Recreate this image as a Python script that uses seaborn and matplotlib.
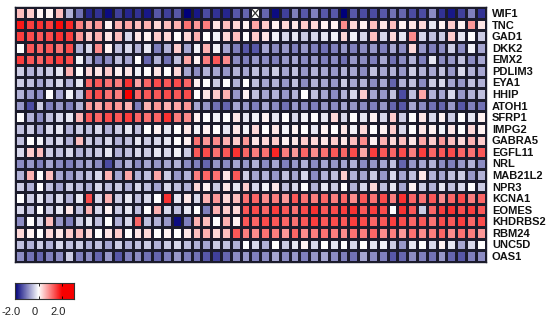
import numpy as np
import pandas as pd
import matplotlib
matplotlib.use("Agg")
import matplotlib.pyplot as plt
import matplotlib.transforms as mtransforms
import seaborn as sns
from matplotlib.colors import LinearSegmentedColormap

genes = ["WIF1", "TNC", "GAD1", "DKK2", "EMX2", "PDLIM3", "EYA1", "HHIP", "ATOH1",
         "SFRP1", "IMPG2", "GABRA5", "EGFL11", "NRL", "MAB21L2", "NPR3", "KCNA1",
         "EOMES", "KHDRBS2", "RBM24", "UNC5D", "OAS1"]

WIF1 = [0.5, 0.4, 0.1, 0.1, 0.5, -0.6, -1.1, -1.7, -1.6, -1.9, -1.5, -1.7, -1.6, -1.8, -1.3,
        -1.5, -1.3, -2.0, -1.8, -1.4, -1.6, -1.7, -1.3, -1.2, np.nan, -1.2, -1.9, -1.5, -1.0, -1.3, -1.0, -1.3,
        -1.3, -2.0, -1.3, -1.4, -1.4, -1.3, -1.1, -1.2, -1.4, -1.4, -0.9, -1.6, -1.8, -1.5, -1.0, -1.6]
TNC = [1.8, 1.5, 1.6, 1.5, 1.9, 1.7, 1.0, 0.7, 0.8, 0.1, 0.6, 0.7, 0.5, 0.6, 0.3,
       0.5, 0.6, 1.1, 0.8, 1.0, 0.2, 0.5, 0.3, 0.1, 0.7, 0.4, 0.1, 0.3, 0.2, 0.4, 0.3, 0.1,
       0.1, 0.9, 0.3, 0.1, 0.5, 0.2, 0.5, 0.1, 0.2, 0.3, -0.2, 0.1, 0.4, 0.1, 0.8, 0.2]
GAD1 = [1.5, 1.4, 1.3, 1.4, 1.6, 1.5, 0.8, 0.4, 0.6, 0.2, 0.5, -0.3, 0.2, 0.1, 0.4,
        0.3, 0.0, 0.3, 0.6, 0.0, -0.1, 0.3, 0.5, 0.0, 0.4, 0.2, -0.1, -0.3, -0.2, -0.4, -0.3, -0.2,
        -0.1, 0.3, -0.1, -0.3, 0.5, -0.3, 0.3, -0.2, 0.9, -0.3, -0.5, -0.4, 0.4, -0.2, 0.0, -0.4]
DKK2 = [0.0, 1.3, 1.2, 1.3, 1.1, 1.4, -0.6, -0.3, 0.9, 0.1, -0.5, -0.3, -0.6, -0.2, -1.0,
        -0.6, 0.4, -0.7, -0.1, 0.6, -0.1, -0.7, -1.0, -1.3, -1.3, -0.7, -0.9, -0.8, -1.0, -0.8, -1.0, -1.1,
        -1.0, -0.8, -1.0, -0.9, -0.8, -1.0, -0.7, -0.9, 0.3, -0.8, -1.0, -0.9, -0.4, -0.9, -0.1, -0.7]
EMX2 = [1.5, 1.3, 1.2, 1.4, 1.5, 1.4, -0.1, -0.6, -1.0, -0.9, -0.5, -0.7, 0.0, -1.2, -0.6,
        -1.1, -0.5, 0.7, 0.1, 1.0, 1.3, 0.9, -0.9, -1.0, -0.8, -0.9, -1.0, -0.8, -0.7, -0.9, -0.8, -1.0,
        -0.9, -1.1, -0.8, -0.9, -1.0, -0.7, -1.1, -0.9, -0.6, -1.0, -0.2, -0.9, -0.8, -0.5, -0.9, -0.7]
PDLIM3 = [-0.4, -0.6, -0.5, -0.4, -0.2, 0.6, 0.0, 0.3, 0.2, 0.4, 0.1, 0.2, -0.1, 0.0, 0.2,
          0.0, 0.3, -0.7, -0.9, -0.6, -0.7, -0.8, -0.6, -0.7, -0.5, -0.6, -0.4, -0.7, -0.5, -0.8, -0.6, -0.7,
          -0.8, -0.6, -0.7, -0.9, -0.5, -0.7, -0.6, -0.8, -0.4, -0.6, -0.7, -0.5, -0.8, -0.3, -0.6, -0.7]
EYA1 = [-0.4, -0.5, -0.7, -0.5, -0.3, -0.6, -0.2, 1.2, 1.3, 1.1, 1.0, 1.6, 0.7, 1.2, 1.4,
        1.3, 1.4, 1.2, 0.1, 0.0, -0.4, 0.0, -0.6, 0.0, -0.5, -0.7, -0.6, -0.8, -0.5, -0.9, -0.6, -0.7,
        -0.8, -0.4, -0.7, -0.6, -0.9, -0.7, -1.2, -0.6, -0.5, -0.9, -0.4, -0.3, -0.7, -0.8, -0.5, -0.6]
HHIP = [-0.6, -0.8, -0.9, 0.0, -0.7, -0.1, -0.5, 1.3, 1.4, 1.1, 1.0, 2.0, 1.2, 1.3, 1.3,
        1.4, 1.3, 1.4, 0.0, 0.2, 0.4, 0.6, -0.8, 0.1, -0.5, -0.7, -0.6, -0.8, -0.6, 0.0, -0.5, -0.7,
        -0.9, -0.6, -0.3, 0.4, -0.7, -0.8, -0.5, -1.4, -0.5, 0.7, -0.6, -0.7, -0.3, -0.8, -0.6, -0.5]
ATOH1 = [-0.8, -1.4, -0.4, -1.0, -0.8, -1.0, -0.6, 0.8, 0.7, 0.9, 0.8, 0.6, -1.0, 0.6, 0.8,
         0.6, 0.7, 0.8, -0.7, -0.8, -1.1, -1.2, -0.7, -0.8, -1.0, -0.7, -0.9, -1.1, -0.8, -0.9, -1.0, -0.8,
         -0.9, -0.7, -0.8, -0.9, -1.0, -0.8, -1.2, -1.3, -0.7, -0.9, -1.1, -1.2, -0.8, -1.3, -1.0, -1.1]
SFRP1 = [0.0, -0.6, -0.9, -0.5, -0.3, -0.2, 0.6, 1.3, 1.2, 1.4, 1.3, 1.5, 1.2, 1.1, 1.2,
         1.6, 1.0, 0.9, 0.1, 0.0, -0.1, 0.0, 0.2, -0.2, -0.1, 0.1, -0.2, 0.0, -0.3, -0.1, 0.0, -0.2,
         0.3, -0.3, 0.0, -0.2, 0.1, -0.3, 0.4, -0.4, 0.0, 0.2, -0.3, 0.1, -0.4, 0.0, -0.2, 0.1]
IMPG2 = [-0.5, -0.4, -0.7, -0.3, -0.2, -0.6, -0.4, -0.5, -0.3, -0.6, -0.4, -0.2, -0.5, 0.0, 0.1,
         -0.2, 0.0, 0.2, -0.1, 0.1, 0.0, -0.2, 0.2, -0.1, 0.3, 0.0, 0.2, -0.1, 0.1, 0.0, -0.2, 0.1,
         0.0, 0.2, -0.1, 0.3, 0.0, 0.1, 0.4, -0.3, 0.0, 0.2, 0.1, -0.1, 0.2, 0.0, 0.3, 0.1]
GABRA5 = [-0.5, 0.0, -0.1, -0.4, -0.3, -0.6, 0.5, -0.4, -0.5, -0.3, -0.6, -0.5, -0.2, -0.4, -0.3,
          -0.2, 0.0, 0.1, 1.1, 0.8, 0.9, 0.6, 0.4, 0.8, 0.2, 0.3, 0.4, 0.1, 0.2, 0.4, 0.3, 0.2,
          0.4, 0.2, 0.5, 0.9, 0.1, 0.6, 0.3, 0.5, 0.2, 0.7, 0.4, 0.8, 0.5, 0.3, 0.6, 0.4]
EGFL11 = [-0.3, 0.4, 0.5, -0.4, -0.5, -0.3, -0.6, -0.5, -0.4, -0.2, -0.6, -0.5, -0.3, -0.4, -0.2,
          -0.3, -0.1, -0.4, 1.3, 1.4, 1.1, 1.3, 1.6, 1.2, 1.0, 1.1, 1.7, 1.0, 0.8, 1.2, 0.9, 1.1,
          1.3, 1.2, 1.4, 0.7, 1.5, 1.3, 1.2, 1.4, 1.0, 1.5, 1.2, 1.3, 1.4, 1.2, 1.1, 1.3]
NRL = [-0.9, -0.8, -1.0, -0.7, -0.9, -1.0, -0.8, -0.7, -0.9, -1.4, -0.8, -0.6, -0.9, -0.7, -0.8,
       -0.7, -0.6, -0.9, -1.0, -1.2, -0.8, -0.9, -0.7, -0.8, -0.6, -0.9, -0.7, -1.0, -0.8, -0.6, -0.9, -0.7,
       -0.8, -0.7, -0.6, -0.9, -0.8, -0.7, -0.5, -1.2, -0.8, -0.7, -0.6, -0.9, -1.0, -0.8, -0.6, -0.9]
MAB21L2 = [-0.6, 0.6, 0.0, 0.5, -0.7, -0.8, -0.6, -0.5, -0.3, 0.6, -0.7, 0.7, -0.6, -0.5, 0.7,
           -0.4, -0.8, -0.6, 1.0, 1.2, 1.1, 0.2, 1.3, -0.4, -0.7, -0.6, -0.8, -0.5, -0.7, -0.3, -0.9, -0.6,
           -0.5, 0.4, -0.6, -0.7, -0.4, -0.8, -0.3, -0.7, -0.5, 0.2, -0.6, -0.7, -0.5, -0.4, -0.8, -0.6]
NPR3 = [-0.4, -0.6, 0.0, -0.5, -0.7, -0.4, -0.5, -0.6, -0.3, -0.5, -0.4, -0.6, -0.3, -0.5, -0.7,
        -0.3, -0.5, -0.6, 0.3, 0.1, -0.4, 0.2, -0.2, 0.4, -0.3, -0.1, 0.2, -0.5, -0.3, 0.0, -0.6, -0.2,
        -0.4, 0.0, -0.6, -0.3, 0.3, -0.5, -0.2, -0.7, 0.1, -0.4, -0.6, -0.2, -0.5, -0.3, 0.0, -0.4]
KCNA1 = [0.0, -0.4, -0.2, -0.5, -0.3, -0.6, -0.2, 1.4, -0.3, 0.6, -0.4, -0.2, -0.5, -0.3, 0.0,
         1.6, -0.2, 0.2, -0.3, 0.6, 0.8, 0.3, 0.5, 1.1, 1.2, 0.9, 1.0, 0.8, 1.3, 1.1, 1.0, 1.2,
         1.0, 1.2, 0.9, 1.3, 1.1, 1.4, 1.0, 1.6, 1.2, 1.1, 1.3, 0.9, 1.2, 1.4, 1.0, 1.2]
EOMES = [-0.3, -0.5, 0.0, -0.4, -0.2, 0.2, -0.5, 0.6, -0.3, 0.1, -0.4, -0.2, -0.5, 0.0, 0.6,
         -0.3, -0.5, -0.2, 0.0, -1.0, 0.6, 0.4, 0.3, 1.3, 1.4, 1.2, 1.5, 1.3, 1.1, 1.4, 1.6, 1.3,
         1.4, 1.5, 1.6, 1.3, 1.5, 1.4, 0.0, 1.6, 1.3, -0.4, 1.2, 1.5, 1.6, 1.4, 1.5, 1.3]
KHDRBS2 = [-0.9, 0.0, -0.3, 0.5, -0.8, -1.0, -0.4, -0.2, -0.5, 0.0, -0.6, -0.3, 1.2, -0.5, -0.6,
           -0.8, -1.9, -1.0, 0.6, 0.5, 0.0, 0.6, 0.1, 1.3, 1.2, 1.4, 1.3, 1.2, 1.1, 1.3, 1.5, 1.3,
           1.4, 1.3, 1.5, 1.4, 1.2, 1.3, 1.5, 1.4, 1.2, 1.3, 1.1, 1.4, 1.3, 1.5, 1.2, 1.4]
RBM24 = [0.3, 0.1, 0.0, 0.3, 0.2, 0.4, 0.5, 0.3, 0.0, 0.2, 0.4, 0.0, 0.2, 0.3, 0.0,
         0.1, 0.0, 0.2, 0.5, 0.6, 0.3, 0.5, 1.3, 1.0, 0.9, 1.1, 1.0, 0.8, 1.2, 0.9, 1.0, 1.1,
         1.0, 0.9, 1.1, 1.0, 1.2, 0.9, 1.0, 0.8, 1.1, 0.9, 1.0, 1.2, 0.9, 1.1, 1.0, 0.8]
UNC5D = [-0.5, -0.6, -0.4, -0.6, -0.3, -0.5, -0.4, -0.6, -0.5, -0.7, -0.4, -0.6, -0.5, -0.4, -0.6,
         -0.4, -0.3, -0.5, -0.6, -0.7, -0.4, -0.5, -0.6, 0.0, -0.3, -0.6, 0.0, -0.4, -0.2, 0.1, -0.3, 0.0,
         -0.2, 0.0, -0.3, 0.0, -0.2, -0.1, -0.4, -0.8, -0.2, 0.0, -0.3, 0.1, -0.2, -0.7, -0.3, 0.0]
OAS1 = [-0.9, -1.1, -1.2, -1.0, -0.9, -0.4, -1.0, -0.9, -1.2, -0.8, -1.3, -1.0, -0.9, -1.1, -1.2,
        -1.0, -0.8, -1.0, -1.1, -1.3, -1.5, -1.2, -0.9, -0.8, -1.0, -0.9, -0.7, -0.9, -0.8, -1.0, -0.8, -0.7,
        -0.9, -1.0, -1.1, -0.7, -0.9, -1.0, -1.3, -1.2, -0.9, -1.0, -1.1, -0.8, -1.2, -1.3, -1.0, -0.9]

rows = [WIF1, TNC, GAD1, DKK2, EMX2, PDLIM3, EYA1, HHIP, ATOH1, SFRP1, IMPG2, GABRA5,
        EGFL11, NRL, MAB21L2, NPR3, KCNA1, EOMES, KHDRBS2, RBM24, UNC5D, OAS1]
samples = [f"S{i + 1}" for i in range(len(WIF1))]
df = pd.DataFrame(rows, index=genes, columns=samples)

cbar_ticks = [-2.0, 0.0, 2.0]
cbar_labels = ["-2.0", "0", "2.0"]

cmap = LinearSegmentedColormap.from_list("bwr_custom", ["#00007a", "#ffffff", "#f80000"])

W, H = 553, 319
fig = plt.figure(figsize=(W / 100, H / 100), dpi=100)
fig.patch.set_facecolor("white")

ax = fig.add_axes([15 / W, 1 - 261.7 / H, 470.7 / W, 254.4 / H])
ax.set_facecolor("white")
sns.heatmap(df, ax=ax, cmap=cmap, vmin=-2, vmax=2, cbar=False,
            linewidths=0.8, linecolor="#1c1c2c", square=False)

# X marks on missing cells
nan_r, nan_c = np.where(df.isna().values)
for r, c in zip(nan_r, nan_c):
    ax.plot([c + 0.15, c + 0.85], [r + 0.15, r + 0.85], color="#333333", lw=0.9)
    ax.plot([c + 0.15, c + 0.85], [r + 0.85, r + 0.15], color="#333333", lw=0.9)

ax.set_xticks([])
ax.set_xlabel("")
ax.set_ylabel("")
ax.yaxis.tick_right()
ax.set_yticks(np.arange(len(genes)) + 0.5)
ax.set_yticklabels(genes, rotation=0, fontfamily="Liberation Sans",
                   fontweight="bold", fontsize=8, color="#111111")
ax.tick_params(axis="y", length=0, pad=4.5)
for s in ax.spines.values():
    s.set_visible(True)
    s.set_color("#1c1c2c")
    s.set_linewidth(1.0)

# colour scale key
cax = fig.add_axes([15 / W, 1 - 299 / H, 59 / W, 16 / H])
grad = np.linspace(-2, 3, 300)[None, :]
cax.imshow(grad, extent=[-2, 3, 0, 1], aspect="auto", cmap=cmap, vmin=-2, vmax=2)
cax.set_xlim(-2, 3)
cax.set_yticks([])
cax.set_xticks(cbar_ticks)
cax.set_xticklabels(cbar_labels, fontfamily="Liberation Sans", fontsize=8, color="#222222")
cax.tick_params(axis="x", length=2, width=0.6, pad=5.5, direction="in", top=True)
shift = mtransforms.ScaledTranslation(-4 / 100, 0, fig.dpi_scale_trans)
for lab in cax.get_xticklabels():
    lab.set_transform(lab.get_transform() + shift)
for s in cax.spines.values():
    s.set_color("#333333")
    s.set_linewidth(0.8)

fig.savefig("out.png", dpi=100)
